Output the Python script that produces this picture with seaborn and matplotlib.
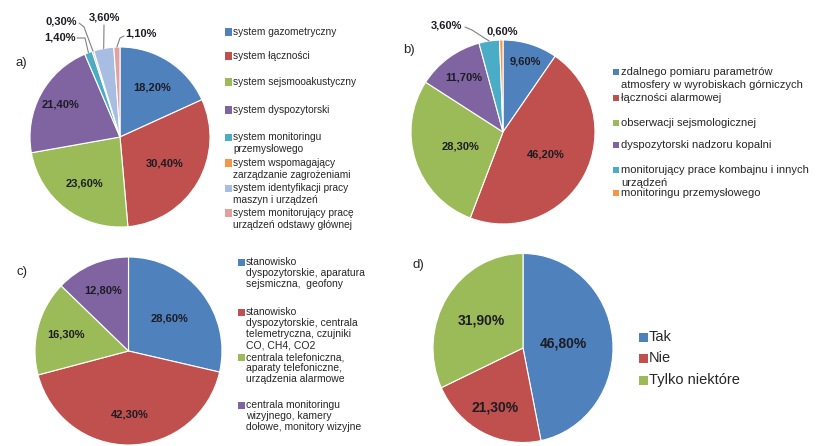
import matplotlib
matplotlib.use("Agg")
import matplotlib.pyplot as plt
from matplotlib.patches import Rectangle
import numpy as np
import seaborn as sns

sns.set_theme(style="white")
plt.rcParams["font.family"] = ["Liberation Sans", "DejaVu Sans"]

W, H = 819, 446

BLUE, RED, GREEN, PURPLE = "#4F81BD", "#C0504D", "#9BBB59", "#8064A2"
TEAL, ORANGE, LBLUE, PINK = "#4BACC6", "#F79646", "#A7BEE2", "#E2A09F"

# ---- data -------------------------------------------------------------
a_names = ["system gazometryczny", "system łączności", "system sejsmooakustyczny",
           "system dyspozytorski", "system monitoringu\nprzemysłowego",
           "system wspomagający\nzarządzanie zagrożeniami",
           "system identyfikacji pracy\nmaszyn i urządzeń",
           "system monitorujący pracę\nurządzeń odstawy głównej"]
a_values = [18.2, 30.4, 23.6, 21.4, 1.4, 0.3, 3.6, 1.1]

b_names = ["zdalnego pomiaru parametrów\natmosfery w wyrobiskach górniczych",
           "łączności alarmowej", "obserwacji sejsmologicznej",
           "dyspozytorski nadzoru kopalni",
           "monitorujący prace kombajnu i innych\nurządzeń",
           "monitoringu przemysłowego"]
b_values = [9.6, 46.2, 28.3, 11.7, 3.6, 0.6]

c_names = ["stanowisko\ndyspozytorskie, aparatura\nsejsmiczna,  geofony",
           "stanowisko\ndyspozytorskie, centrala\ntelemetryczna, czujniki\nCO, CH4, CO2",
           "centrala telefoniczna,\naparaty telefoniczne,\nurządzenia alarmowe",
           "centrala monitoringu\nwizyjnego, kamery\ndołowe, monitory wizyjne"]
c_values = [28.6, 42.3, 16.3, 12.8]

d_names = ["Tak", "Nie", "Tylko niektóre"]
d_values = [46.8, 21.3, 31.9]

a_colors = [BLUE, RED, GREEN, PURPLE, TEAL, ORANGE, LBLUE, PINK]
b_colors = [BLUE, RED, GREEN, PURPLE, TEAL, ORANGE]
c_colors = [BLUE, RED, GREEN, PURPLE]
d_colors = [BLUE, RED, GREEN]

fig = plt.figure(figsize=(W / 100, H / 100), dpi=100)
fig.patch.set_facecolor("white")


def pct(v):
    return f"{v:.2f}%".replace(".", ",")


def fx(x):
    return x / W


def fy(y):
    return 1 - y / H


def pie_panel(values, colors, cx, cy, rx, ry, inner, outer, fs):
    """Pie placed at pixel centre (cx, cy); inner = radial fraction of the
    value label per slice (None -> label placed outside, see `outer`)."""
    ax = fig.add_axes([fx(cx - rx), fy(cy + ry), 2 * rx / W, 2 * ry / H])
    wedges, _ = ax.pie(values, colors=colors, startangle=90, counterclock=False,
                       wedgeprops=dict(edgecolor="white", linewidth=0.8))
    ax.set_aspect("auto")
    ax.set_xlim(-1, 1)
    ax.set_ylim(-1, 1)
    ax.axis("off")

    def to_data(x, y):
        return (x - cx) / rx, -(y - cy) / ry

    for i, (w, v) in enumerate(zip(wedges, values)):
        mid = np.deg2rad((w.theta1 + w.theta2) / 2)
        if inner[i] is not None:
            f = inner[i]
            ax.text(f * np.cos(mid), f * np.sin(mid), pct(v), ha="center",
                    va="center", fontsize=fs, fontweight="bold", color="#1c1c24")
        elif i in outer:
            (tx, ty), path = outer[i]
            ax.text(*to_data(tx, ty), pct(v), ha="center", va="center",
                    fontsize=8, fontweight="bold", color="#1c1c24", clip_on=False)
            if path:
                pts = [to_data(px, py) for px, py in path]
                pts.append((np.cos(mid), np.sin(mid)))
                xs, ys = zip(*pts)
                ax.plot(xs, ys, color="#808080", lw=0.8, clip_on=False)
    return ax


def legend(names, colors, sq_x, txt_x, ys, sq, fs, lh):
    for name, col, y in zip(names, colors, ys):
        fig.add_artist(Rectangle((fx(sq_x), fy(y + sq / 2)), sq / W, sq / H,
                                 transform=fig.transFigure, facecolor=col,
                                 edgecolor="none"))
        for k, line in enumerate(name.split("\n")):
            fig.text(fx(txt_x), fy(y + k * lh), line, fontsize=fs,
                     va="center", ha="left", color="#262626")


# a)
pie_panel(a_values, a_colors, 120, 137, 90, 90,
          [0.65, 0.58, 0.65, 0.75, None, None, None, None],
          {4: ((60, 37), [(77, 38), (85, 38)]),
           5: ((61, 21), [(79, 23), (84, 27)]),
           6: ((104, 17), [(104, 25)]),
           7: ((141, 34), [(124, 36), (120, 38)])}, 8)
legend(a_names, a_colors, 225, 233, [32, 56, 82, 110, 137, 163, 188, 213], 7, 7.3, 11.8)

# b)
pie_panel(b_values, b_colors, 503, 132, 92, 92,
          [0.8, 0.52, 0.49, 0.73, None, None],
          {4: ((446, 26), [(465, 27), (472, 30)]),
           5: ((502, 31), [])}, 8)
legend(b_names, b_colors, 613, 621, [72, 98, 123, 145, 170, 193], 6, 8, 12.5)

# c)
pie_panel(c_values, c_colors, 128.5, 351, 93.5, 94,
          [0.56, 0.68, 0.69, 0.70], {}, 8)
legend(c_names, c_colors, 238, 246, [262, 312, 357, 405], 7, 7.5, 11)

# d)
pie_panel(d_values, d_colors, 523, 348, 90, 94.5,
          [0.45, 0.70, 0.55], {}, 10)
legend(d_names, d_colors, 639, 649, [337, 358, 380], 9, 10.5, 12)

for lab, x, y in [("a)", 21, 63), ("b)", 409, 50), ("c)", 22, 272), ("d)", 418, 265)]:
    fig.text(fx(x), fy(y), lab, fontsize=9.5, ha="center", va="center", color="#262626")

fig.savefig("out.png", dpi=100, facecolor="white")
